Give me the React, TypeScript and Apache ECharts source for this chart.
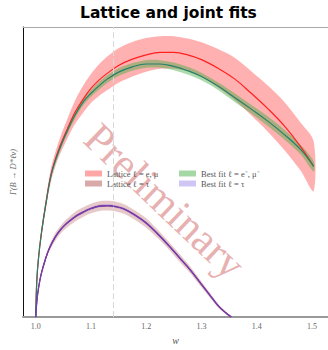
import React, { useEffect, useRef } from 'react';
import * as echarts from 'echarts';

// recoil w grid for light leptons (e, mu)
const wLight = [1.0, 1.002, 1.005, 1.01, 1.018, 1.028, 1.04, 1.055, 1.07, 1.086, 1.1, 1.115, 1.13, 1.15, 1.175, 1.2, 1.225, 1.25, 1.275, 1.3, 1.33, 1.36, 1.39, 1.42, 1.45, 1.48, 1.503];
const latticeLight = [0, 38, 61, 86, 117, 149, 172, 193, 212, 227, 238, 247, 254, 262, 268.5, 273, 275.5, 275.5, 273, 268, 259, 248, 233, 217, 199, 177, 157];
const latticeLightErr = [0, 1, 2, 4, 5, 7, 8, 10, 12, 14, 15, 16.5, 17.5, 18, 18, 17.5, 17, 17, 17, 18, 20, 22, 23, 24, 25, 25, 26];
const fitLight = [0, 38, 61, 86, 116, 148, 170, 191, 209, 224, 233, 241, 248, 255, 260.5, 263.5, 263.5, 261, 256.5, 250.5, 240.5, 228.5, 216.5, 204, 190, 174, 157];
const fitLightErr = [0, 0.5, 1, 1.5, 2, 2.5, 3, 3, 3.5, 3.5, 3.5, 4, 4, 4, 4, 4, 4, 4, 4, 4, 4, 4.5, 4.5, 5, 5, 5, 5.5];

// recoil w grid for tau
const wTau = [1.0, 1.002, 1.005, 1.01, 1.018, 1.025, 1.035, 1.045, 1.055, 1.07, 1.085, 1.1, 1.115, 1.13, 1.145, 1.16, 1.18, 1.2, 1.22, 1.24, 1.26, 1.28, 1.3, 1.315, 1.33, 1.345, 1.354];
const latticeTau = [0, 16, 30, 45, 61, 72, 83, 91, 97, 104, 109, 113, 115.5, 116, 115, 112.5, 106, 98, 87, 75, 62, 49, 34, 23, 12, 4, 0];
const latticeTauErr = [0, 1, 1.5, 2, 3, 3, 4, 4, 4.5, 5, 5, 5, 5, 5, 5, 5, 5, 5, 4.5, 4, 4, 3.5, 3, 2.5, 2, 1.5, 1];
const fitTau = [0, 16, 30, 45, 61, 72, 83, 91, 97, 104, 109, 113, 115.5, 116, 115, 112.5, 106, 98, 87, 75, 62, 49, 34, 23, 12, 4, 0];
const fitTauErr = [0, 0.5, 0.8, 1, 1.2, 1.3, 1.4, 1.5, 1.5, 1.5, 1.5, 1.5, 1.5, 1.5, 1.5, 1.5, 1.5, 1.5, 1.5, 1.5, 1.4, 1.3, 1.2, 1.1, 1, 0.8, 0.5];

const xTicks = [1.0, 1.1, 1.2, 1.3, 1.4, 1.5];
const refLineW = 1.136;

const legendNames = ['Lattice ℓ = e, μ', 'Lattice ℓ = τ', 'Best fit ℓ = e⁻, μ⁻', 'Best fit ℓ = τ'];
const bandColors = ['rgba(255,100,100,0.5)', 'rgba(185,90,90,0.33)', 'rgba(60,170,60,0.42)', 'rgba(120,100,230,0.35)'];
const swatchColors = ['#ffa6a6', '#d9a8a8', '#a6d8a6', '#cfc6f4'];

function bandSeries(name: string, w: number[], c: number[], e: number[], color: string, z: number) {
  return {
    type: 'custom',
    name,
    z,
    silent: true,
    coordinateSystem: 'cartesian2d',
    data: [[w[0], c[0]]],
    itemStyle: { color },
    renderItem: (_p: any, api: any) => {
      const up = w.map((x, i) => api.coord([x, c[i] + e[i]]));
      const lo = w.map((x, i) => api.coord([x, Math.max(0, c[i] - e[i])])).reverse();
      return {
        type: 'polygon',
        shape: { points: up.concat(lo), smooth: 0.3 },
        style: { fill: color, stroke: 'none' },
      };
    },
  };
}

function lineSeries(name: string, w: number[], c: number[], color: string, z: number, width = 1.2) {
  return {
    type: 'line',
    name,
    z,
    silent: true,
    symbol: 'none',
    smooth: 0.4,
    data: w.map((x, i) => [x, c[i]]),
    lineStyle: { color, width },
    itemStyle: { color },
  };
}

export default function App() {
  const ref = useRef<HTMLDivElement>(null);
  useEffect(() => {
    if (!ref.current) return;
    const chart = echarts.init(ref.current, undefined, { renderer: 'svg' });
    const serif = 'Liberation Serif';
    const option: any = {
      animation: false,
      backgroundColor: '#fff',
      title: {
        text: 'Lattice and joint fits',
        left: 80,
        top: 5,
        padding: 0,
        textStyle: { fontFamily: 'DejaVu Sans', fontWeight: 'bold', fontSize: 15.5, color: '#000' },
      },
      grid: { left: 20, right: 0, top: 27, bottom: 21 },
      legend: [
        {
          orient: 'vertical', left: 80, top: 164, itemWidth: 17, itemHeight: 6, itemGap: 1,
          textStyle: { fontFamily: serif, fontSize: 8.5, color: '#555', lineHeight: 9 },
          data: [
            { name: legendNames[0], icon: 'rect', itemStyle: { color: swatchColors[0] } },
            { name: legendNames[1], icon: 'rect', itemStyle: { color: swatchColors[1] } },
          ],
        },
        {
          orient: 'vertical', left: 174, top: 164, itemWidth: 17, itemHeight: 6, itemGap: 1,
          textStyle: { fontFamily: serif, fontSize: 8.5, color: '#555', lineHeight: 9 },
          data: [
            { name: legendNames[2], icon: 'rect', itemStyle: { color: swatchColors[2] } },
            { name: legendNames[3], icon: 'rect', itemStyle: { color: swatchColors[3] } },
          ],
        },
      ],
      xAxis: [
        {
          type: 'value', min: 0.977, max: 1.529, position: 'bottom',
          name: 'w', nameLocation: 'middle', nameGap: 14,
          nameTextStyle: { fontFamily: serif, fontStyle: 'italic', fontSize: 10, color: '#555' },
          axisLine: { show: true, lineStyle: { color: '#999', width: 2 } },
          axisTick: { show: false },
          splitLine: { show: false },
          axisLabel: {
            customValues: xTicks, margin: 5,
            formatter: (v: number) => v.toFixed(1),
            fontFamily: serif, fontSize: 8, color: '#666',
          },
        },
        {
          type: 'value', min: 0.977, max: 1.529, position: 'top',
          axisLine: { show: true, lineStyle: { color: '#aaa', width: 1 } },
          axisTick: { show: false }, axisLabel: { show: false }, splitLine: { show: false },
        },
      ],
      yAxis: {
        type: 'value', min: 0, max: 302,
        name: 'Γ(B → D*ℓν)', nameLocation: 'middle', nameGap: 6, nameRotate: 90,
        nameTextStyle: { fontFamily: serif, fontStyle: 'italic', fontSize: 8.5, color: '#666' },
        axisLine: { show: true, lineStyle: { color: '#111', width: 1 } },
        axisTick: { show: false }, axisLabel: { show: false }, splitLine: { show: false },
      },
      graphic: [
        {
          type: 'text', x: 165, y: 201, rotation: -0.76, z: 1,
          style: {
            text: 'Preliminary', fontFamily: serif, fontSize: 43,
            fill: 'rgba(205,90,90,0.48)', align: 'center', verticalAlign: 'middle',
            textAlign: 'center', textVerticalAlign: 'middle',
          },
        },
      ],
      series: [
        {
          ...bandSeries(legendNames[0], wLight, latticeLight, latticeLightErr, bandColors[0], 2),
          markLine: {
            silent: true, symbol: 'none', label: { show: false },
            lineStyle: { color: '#d8d8d8', type: [6, 3], width: 1 },
            data: [{ xAxis: refLineW }],
          },
        },
        bandSeries(legendNames[1], wTau, latticeTau, latticeTauErr, bandColors[1], 2),
        bandSeries(legendNames[2], wLight, fitLight, fitLightErr, bandColors[2], 3),
        bandSeries(legendNames[3], wTau, fitTau, fitTauErr, bandColors[3], 3),
        lineSeries('latLightLine', wLight, latticeLight, '#ff2020', 4),
        lineSeries('latTauLine', wTau, latticeTau, '#a01818', 4),
        lineSeries('fitLightLine', wLight, fitLight, '#23806a', 5),
        lineSeries('fitTauLine', wTau, fitTau, '#6a3fc4', 5),
      ],
    };
    chart.setOption(option);
    return () => chart.dispose();
  }, []);
  return <div ref={ref} style={{ position: 'fixed', left: 0, top: 0, width: 328, height: 350 }} />;
}
